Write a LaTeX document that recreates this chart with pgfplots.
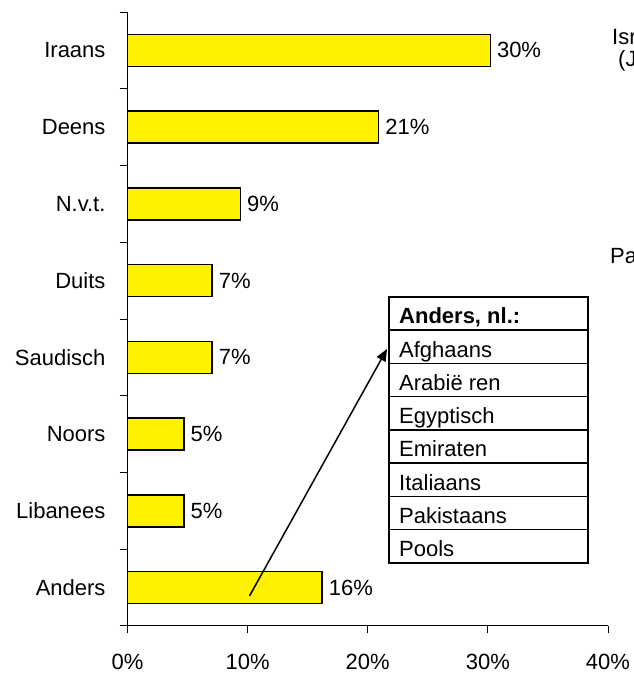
\documentclass[border=0pt]{standalone}
\usepackage{pgfplots}
\pgfplotsset{compat=1.18}
\usepackage{fontspec}
\setmainfont{Liberation Sans}
\usetikzlibrary{arrows.meta}
\begin{document}
\begin{tikzpicture}[x=1pt,y=1pt,font=\fontsize{22}{26}\selectfont]
\path[use as bounding box] (0,0) rectangle (634,673);
\clip (0,0) rectangle (634,673);
\begin{axis}[
  at={(127.5pt,47pt)}, anchor=south west,
  scale only axis, width=480.5pt, height=614pt,
  xmin=0, xmax=40, ymin=0.5, ymax=8.5,
  axis x line=bottom, axis y line=left,
  axis line style={-, black, line width=1pt},
  tick align=outside,
  major tick length=7.5pt, minor tick length=7.5pt,
  tick style={black, line width=1pt},
  xtick={0,10,20,30,40},
  xticklabels={0\%,10\%,20\%,30\%,40\%},
  ytick={1,2,3,4,5,6,7,8},
  yticklabels={Anders,Libanees,Noors,Saudisch,Duits,N.v.t.,Deens,Iraans},
  minor ytick={0.5,1.5,2.5,3.5,4.5,5.5,6.5,7.5,8.5},
  major y tick style={draw=none},
  tick label style={font=\fontsize{22}{26}\selectfont},
  xticklabel style={yshift=-17pt},
  yticklabel style={xshift=-11pt},
  xbar, bar width=32pt,
  point meta=explicit,
  /pgf/number format/assume math mode=true,
  nodes near coords={\pgfmathprintnumber{\pgfplotspointmeta}\%},
  nodes near coords align={horizontal},
  every node near coord/.append style={font=\fontsize{22}{26}\selectfont, black, anchor=west, inner sep=6pt},
  clip=false,
]
\addplot[fill=yellow, draw=black, line width=1.5pt] coordinates {
  (30.2,8) [30]
  (20.9,7) [21]
  (9.4,6) [9]
  (7.05,5) [7]
  (7.05,4) [7]
  (4.7,3) [5]
  (4.7,2) [5]
  (16.2,1) [16]
};
\end{axis}
% Arrow from "Anders" bar to the list
\draw[line width=1.5pt, -{Triangle[length=12pt,width=10pt]}] (249.5,77) -- (387,324);
% List box
\fill[white] (389,110) rectangle (588,376);
\foreach \i in {1,...,7} {
  \draw[line width=1.5pt] (389,{376-33.25*\i}) -- (588,{376-33.25*\i});
}
\draw[line width=1.5pt] (389,110) rectangle (588,376);
\node[anchor=base west, inner sep=0pt] at (399,{376-27}) {\bfseries Anders, nl.:};
\node[anchor=base west, inner sep=0pt] at (399,{376-33.25*1-27}) {Afghaans};
\node[anchor=base west, inner sep=0pt] at (399,{376-33.25*2-27}) {Arabië ren};
\node[anchor=base west, inner sep=0pt] at (399,{376-33.25*3-27}) {Egyptisch};
\node[anchor=base west, inner sep=0pt] at (399,{376-33.25*4-27}) {Emiraten};
\node[anchor=base west, inner sep=0pt] at (399,{376-33.25*5-27}) {Italiaans};
\node[anchor=base west, inner sep=0pt] at (399,{376-33.25*6-27}) {Pakistaans};
\node[anchor=base west, inner sep=0pt] at (399,{376-33.25*7-27}) {Pools};
% labels cut off at the right edge, as in the reference
\node[anchor=base west, inner sep=0pt] at (612,628) {Israëlisch};
\node[anchor=base west, inner sep=0pt] at (618,606) {(Joods)};
\node[anchor=base west, inner sep=0pt] at (610,409) {Pakistaans};
\end{tikzpicture}
\end{document}
